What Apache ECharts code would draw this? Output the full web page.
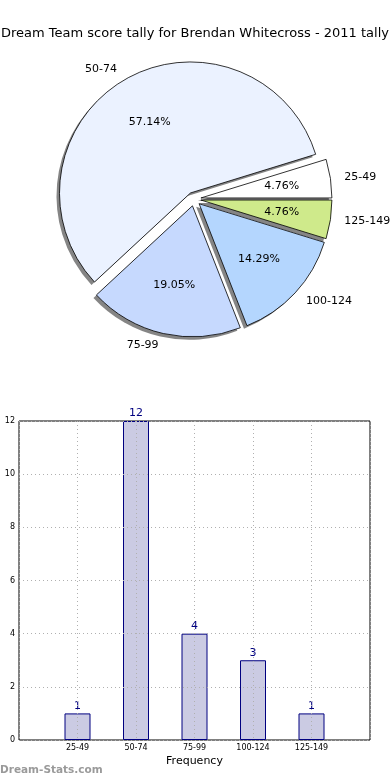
<!DOCTYPE html>
<html><head><meta charset="utf-8">
<script src="https://cdn.jsdelivr.net/npm/echarts@6/dist/echarts.min.js"></script>
<style>html,body{margin:0;padding:0;background:#fff}#c{width:390px;height:780px}</style>
</head><body><div id="c"></div>
<script>
const titleText = 'Dream Team score tally for Brendan Whitecross - 2011 tally';
const categories = ['25-49', '50-74', '75-99', '100-124', '125-149'];
const counts = [1, 12, 4, 3, 1];
const sliceColors = ['#ffffff', '#ebf2ff', '#c6d9fe', '#b4d6fe', '#cfea8b'];
const yTicks = [0, 2, 4, 6, 8, 10, 12];
const xPositions = [1, 2, 3, 4, 5];

const chart = echarts.init(document.getElementById('c'));
const font = 'DejaVu Sans';
const pieCenter = [194, 199];
const shadowCenter = [191, 202];
const R = 131;

const mk = (withColor) => categories.map((c, i) => ({
  name: c, value: counts[i], selected: true,
  itemStyle: withColor ? { color: sliceColors[i] } : undefined
}));

const pieBase = {
  type: 'pie', startAngle: 0, clockwise: false,
  selectedMode: 'multiple', selectedOffset: 7, silent: true,
  emphasis: { disabled: true }, avoidLabelOverlap: false
};

chart.setOption({
  animation: false,
  title: { text: titleText, left: 'center', top: 22,
    textStyle: { fontFamily: font, fontSize: 13, fontWeight: 'normal', color: '#000' } },
  graphic: [{ type: 'text', left: 0, top: 765,
    style: { text: 'Dream-Stats.com', fontFamily: font, fontSize: 10.5, fontWeight: 'bold', fill: '#9a9a9a' } }],
  grid: { left: 19, right: 20, top: 421, bottom: 40, show: true, borderColor: '#000', borderWidth: 1,
    containLabel: false, outerBoundsMode: 'none' },
  xAxis: {
    type: 'value', min: 0, max: 6, interval: 1, z: 5,
    name: 'Frequency', nameLocation: 'middle', nameGap: 16,
    nameTextStyle: { fontFamily: font, fontSize: 11, color: '#000' },
    axisLine: { show: false }, axisTick: { show: false },
    axisLabel: { fontFamily: font, fontSize: 8, color: '#000', margin: 4,
      formatter: v => (v >= 1 && v <= 5) ? categories[v - 1] : '' },
    splitLine: { show: true, lineStyle: { type: [1, 3], color: '#b0b0b0' } }
  },
  yAxis: {
    type: 'value', min: 0, max: 12, interval: 2, z: 5,
    name: 'Score Intervals', nameLocation: 'middle', nameGap: 22,
    nameTextStyle: { fontFamily: font, fontSize: 10, color: '#000' },
    axisLine: { show: false }, axisTick: { show: false },
    axisLabel: { fontFamily: font, fontSize: 8, color: '#000', margin: 4,
      formatter: v => yTicks.includes(v) ? String(v) : '' },
    splitLine: { show: true, lineStyle: { type: [1, 3], color: '#b0b0b0' } }
  },
  series: [
    Object.assign({}, pieBase, {
      center: shadowCenter, radius: R, z: 1,
      itemStyle: { color: 'rgba(0,0,0,0.48)', borderWidth: 0 },
      label: { show: false }, labelLine: { show: false },
      data: mk(false)
    }),
    Object.assign({}, pieBase, {
      center: pieCenter, radius: R, z: 2,
      itemStyle: { borderColor: '#000', borderWidth: 0.8 },
      label: { show: true, position: 'outside', fontFamily: font, fontSize: 11, color: '#000',
        formatter: '{b}', distanceToLabelLine: 2 },
      labelLine: { show: false, length: 12, length2: 0 },
      data: mk(true)
    }),
    Object.assign({}, pieBase, {
      center: pieCenter, radius: [R * 0.2, R], z: 3,
      itemStyle: { color: 'rgba(0,0,0,0)', borderWidth: 0 },
      label: { show: true, position: 'inside', fontFamily: font, fontSize: 11, color: '#000',
        formatter: '{d}%' },
      labelLine: { show: false },
      data: mk(false)
    }),
    {
      type: 'bar', barWidth: 26, z: 2,
      data: xPositions.map((x, i) => [x, counts[i]]),
      itemStyle: { color: '#cbcbe3', borderColor: '#000080', borderWidth: 1 },
      label: { show: true, position: 'top', distance: 2, fontFamily: font, fontSize: 11, color: '#000080' },
      emphasis: { disabled: true }
    }
  ]
});
</script></body></html>
